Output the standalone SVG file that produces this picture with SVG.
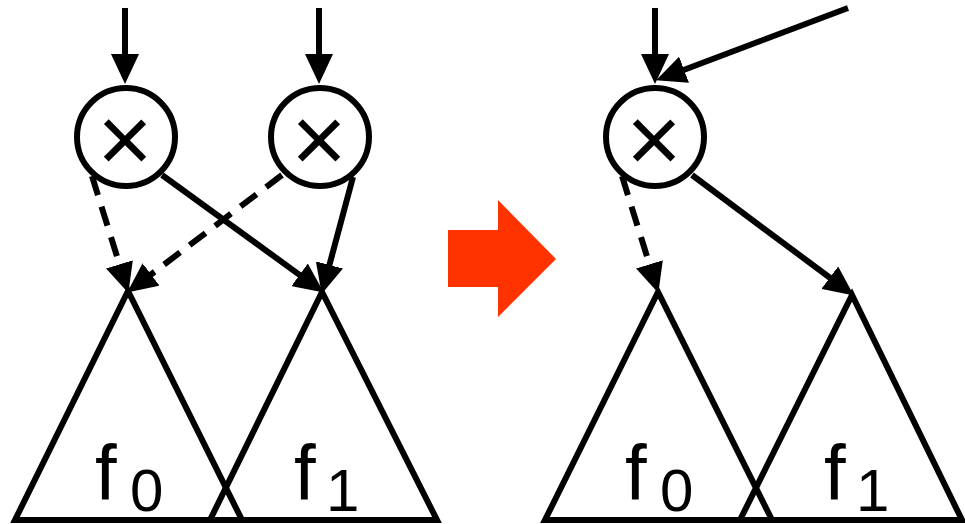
<svg xmlns="http://www.w3.org/2000/svg" width="965" height="524" viewBox="0 0 965 524">
<style>
.node{fill:#fff;stroke:#000;stroke-width:6}
.tri{fill:none;stroke:#000;stroke-width:6;stroke-linejoin:miter;stroke-miterlimit:10}
.edge{fill:none;stroke:#000;stroke-width:6;marker-end:url(#ah)}
.dash{stroke-dasharray:20 12}
.op{font-family:"Liberation Sans",Arial,sans-serif;font-size:95px;text-anchor:middle;fill:#000}
.lbl{font-family:"Liberation Sans",Arial,sans-serif;fill:#000}
</style>
<defs>
<marker id="ah" markerUnits="userSpaceOnUse" viewBox="0 0 30 28" markerWidth="30" markerHeight="28" refX="14" refY="14" orient="auto">
<path d="M0,0 L30,14 L0,28 z" fill="#000"/>
</marker>
</defs>
<rect width="965" height="524" fill="#fff"/>

<g id="left-f0">
<polygon class="tri" points="128,291 15,520 242,520"/>
<text class="lbl" x="95" y="500" font-size="78">f<tspan x="130" y="511" font-size="60">0</tspan></text>
</g>
<g id="left-f1">
<polygon class="tri" points="322,292 210,520 437,520"/>
<text class="lbl" x="294" y="500" font-size="78">f<tspan x="326" y="511" font-size="60">1</tspan></text>
</g>
<g id="left-x1">
<circle class="node" cx="126" cy="137" r="49"/>
<text class="op" x="125" y="172">×</text>
</g>
<g id="left-x2">
<circle class="node" cx="320" cy="137" r="49"/>
<text class="op" x="319" y="172">×</text>
</g>

<g id="right-f0">
<polygon class="tri" points="658,292 545,520 772,520"/>
<text class="lbl" x="625" y="500" font-size="78">f<tspan x="660" y="511" font-size="60">0</tspan></text>
</g>
<g id="right-f1">
<polygon class="tri" points="852,295 740,520 962,520"/>
<text class="lbl" x="824" y="500" font-size="78">f<tspan x="856" y="511" font-size="60">1</tspan></text>
</g>
<g id="right-x">
<circle class="node" cx="655" cy="137" r="49"/>
<text class="op" x="654" y="172">×</text>
</g>

<g id="transform-arrow">
<polygon points="448,230 498,230 498,200 556,259 498,317 498,287 448,287" fill="#FF3300"/>
</g>

<g id="connectors">
<line class="edge" x1="125" y1="8" x2="125" y2="68"/>
<line class="edge" x1="319" y1="8" x2="319" y2="68"/>
<line class="edge dash" x1="92" y1="176" x2="123.6" y2="277.7"/>
<line class="edge" x1="162" y1="175" x2="310.9" y2="283.1"/>
<line class="edge dash" x1="282" y1="175" x2="139.9" y2="282.9"/>
<line class="edge" x1="353" y1="177" x2="325.8" y2="278.5"/>
<line class="edge" x1="655" y1="8" x2="655" y2="68"/>
<line class="edge" x1="848" y1="8" x2="671" y2="74.7"/>
<line class="edge dash" x1="622" y1="176" x2="653.6" y2="277.7"/>
<line class="edge" x1="692" y1="175" x2="841" y2="286"/>
</g>
</svg>
